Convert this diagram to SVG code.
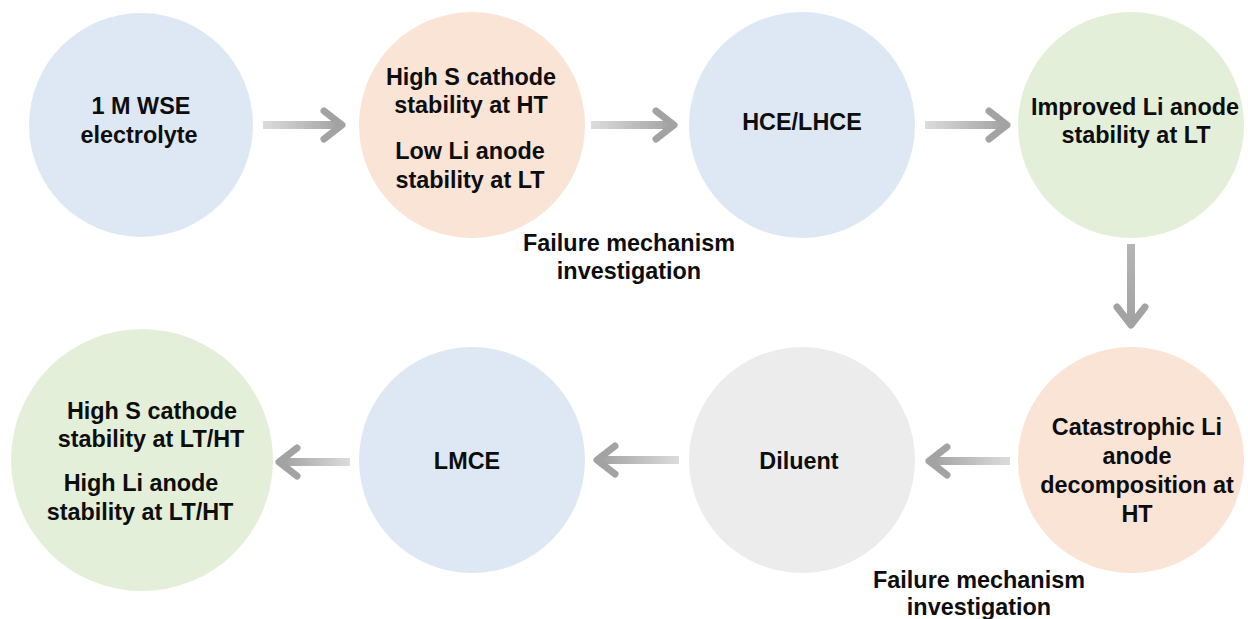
<svg xmlns="http://www.w3.org/2000/svg" width="1248" height="619" viewBox="0 0 1248 619">
<defs>
<linearGradient id="gr" x1="0" y1="0" x2="1" y2="0"><stop offset="0" stop-color="#dcdcdc"/><stop offset="1" stop-color="#a3a3a3"/></linearGradient>
<linearGradient id="gl" x1="1" y1="0" x2="0" y2="0"><stop offset="0" stop-color="#dcdcdc"/><stop offset="1" stop-color="#a3a3a3"/></linearGradient>
<linearGradient id="gd" x1="0" y1="0" x2="0" y2="1"><stop offset="0" stop-color="#b5b5b5"/><stop offset="1" stop-color="#a3a3a3"/></linearGradient>
<style>
text{font-family:"Liberation Sans",Arial,sans-serif;font-weight:bold;font-size:23.4px;fill:#0d0d0d;text-anchor:middle}
.blue{fill:#dee8f4}.peach{fill:#f9e4d6}.green{fill:#e3efd9}.grey{fill:#ececec}
.head{fill:none;stroke:#a3a3a3;stroke-width:7;stroke-linecap:round;stroke-linejoin:round}
</style>
</defs>
<g id="n1"><circle class="blue" cx="141" cy="125" r="112"/><text x="141" y="114">1 M WSE</text><text x="139" y="143">electrolyte</text></g>
<g id="n2"><circle class="peach" cx="472" cy="125" r="113"/><text x="471" y="85">High S cathode</text><text x="471" y="113">stability at HT</text><text x="470" y="159">Low Li anode</text><text x="470" y="188">stability at LT</text></g>
<g id="n3"><circle class="blue" cx="802" cy="125" r="113"/><text x="802" y="130">HCE/LHCE</text></g>
<g id="n4"><circle class="green" cx="1131" cy="125" r="113"/><text x="1135" y="115">Improved Li anode</text><text x="1136" y="143">stability at LT</text></g>
<g id="n5"><circle class="green" cx="142" cy="460" r="131"/><text x="152" y="419">High S cathode</text><text x="151" y="447">stability at LT/HT</text><text x="141" y="491">High Li anode</text><text x="140" y="520">stability at LT/HT</text></g>
<g id="n6"><circle class="blue" cx="472" cy="460" r="113"/><text x="467" y="469">LMCE</text></g>
<g id="n7"><circle class="grey" cx="802" cy="460" r="113"/><text x="799" y="469">Diluent</text></g>
<g id="n8"><circle class="peach" cx="1131" cy="460" r="113"/><text x="1137" y="435">Catastrophic Li</text><text x="1137" y="464">anode</text><text x="1137" y="493">decomposition at</text><text x="1137" y="522">HT</text></g>
<g id="labels"><text x="629" y="251">Failure mechanism</text><text x="629" y="279">investigation</text><text x="979" y="588">Failure mechanism</text><text x="979" y="615">investigation</text></g>
<g id="connectors">
<rect x="263" y="121" width="76" height="8" fill="url(#gr)"/><polyline class="head" points="324,111 342,125 324,139"/>
<rect x="591" y="121" width="80" height="8" fill="url(#gr)"/><polyline class="head" points="656,111 674,125 656,139"/>
<rect x="925" y="121" width="79" height="8" fill="url(#gr)"/><polyline class="head" points="989,111 1007,125 989,139"/>
<rect x="1127" y="244" width="8" height="78" fill="url(#gd)"/><polyline class="head" points="1117,307 1131,325 1145,307"/>
<rect x="934" y="457" width="76" height="8" fill="url(#gl)"/><polyline class="head" points="947,447 929,461 947,475"/>
<rect x="602" y="456" width="77" height="8" fill="url(#gl)"/><polyline class="head" points="615,446 597,460 615,474"/>
<rect x="284" y="458" width="66" height="8" fill="url(#gl)"/><polyline class="head" points="297,448 279,462 297,476"/>
</g>
</svg>
